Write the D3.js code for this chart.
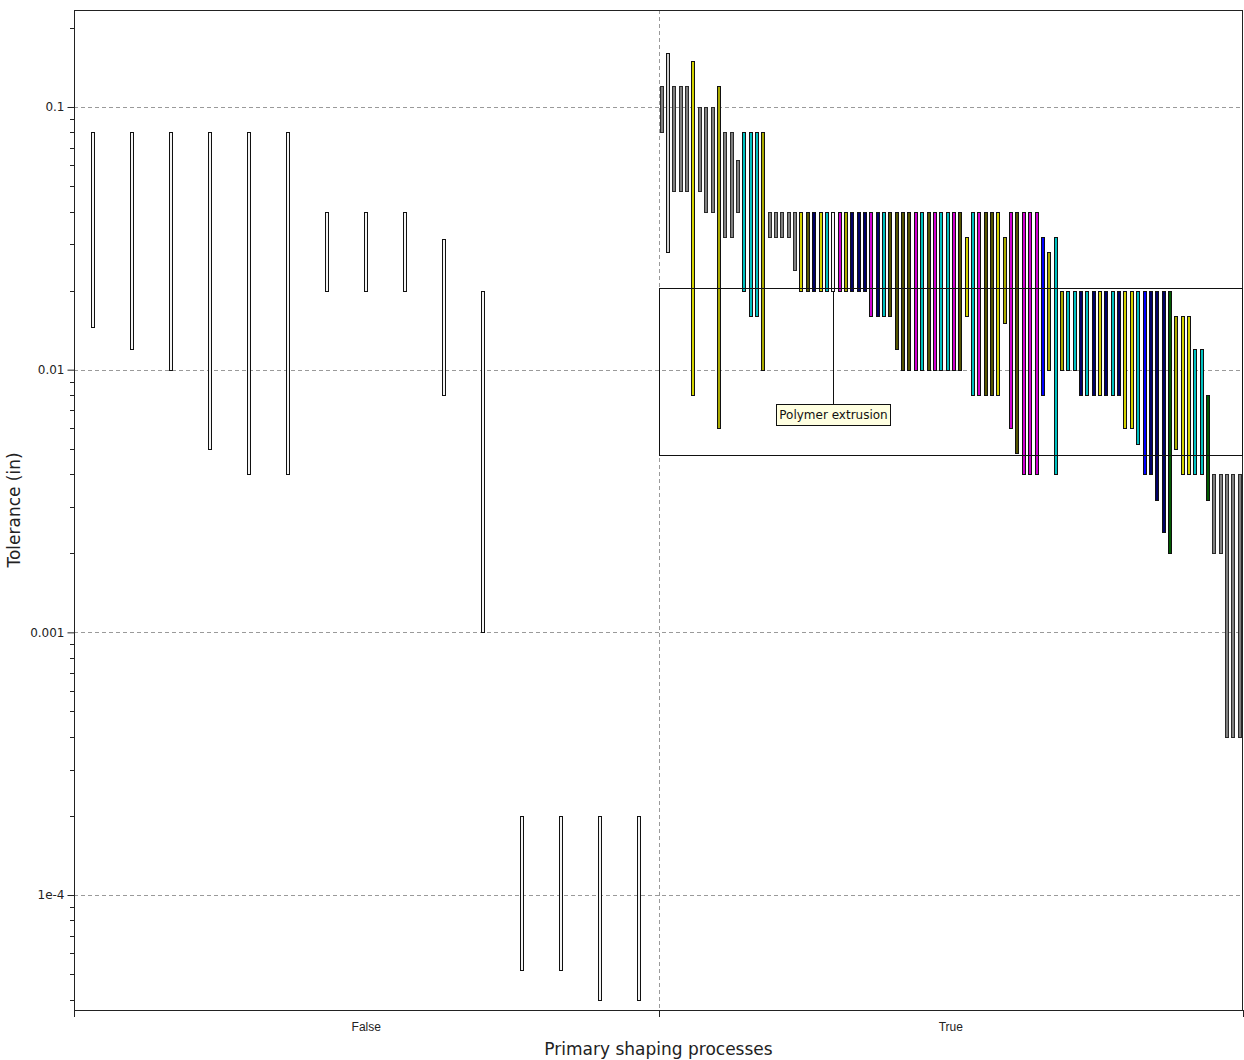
<!DOCTYPE html>
<html><head><meta charset="utf-8">
<script src="https://cdn.jsdelivr.net/npm/d3@7"></script>
<style>body{margin:0;background:#fff;} svg{display:block;font-family:"DejaVu Sans",Verdana,sans-serif;}</style>
</head><body>
<svg id="c" width="1244" height="1060"></svg>
<script>
// ---- data ----
const categories = ["False", "True"];
const falseHigh = [0.08,0.08,0.08,0.08,0.08,0.08,0.04,0.04,0.04,0.0315,0.02,2e-4,2e-4,2e-4,2e-4];
const falseLow  = [0.0145,0.012,0.01,0.005,0.004,0.004,0.02,0.02,0.02,0.008,0.001,5.2e-5,5.2e-5,4e-5,4e-5];
const trueHigh = [0.12,0.16,0.12,0.12,0.12,0.15,0.1,0.1,0.1,0.12,
  0.08,0.08,0.063,0.08,0.08,0.08,0.08,0.04,0.04,0.04,
  0.04,0.04,0.04,0.04,0.04,0.04,0.04,0.04,0.04,0.04,
  0.04,0.04,0.04,0.04,0.04,0.04,0.04,0.04,0.04,0.04,
  0.04,0.04,0.04,0.04,0.04,0.04,0.04,0.04,0.032,0.04,
  0.04,0.04,0.04,0.04,0.032,0.04,0.04,0.04,0.04,0.04,
  0.032,0.028,0.032,0.02,0.02,0.02,0.02,0.02,0.02,0.02,
  0.02,0.02,0.02,0.02,0.02,0.02,0.02,0.02,0.02,0.02,
  0.02,0.016,0.016,0.016,0.012,0.012,0.008,0.004,0.004,0.004,
  0.004,0.004];
const trueLow = [0.08,0.028,0.048,0.048,0.048,0.008,0.048,0.04,0.04,0.006,
  0.032,0.032,0.04,0.02,0.016,0.016,0.01,0.032,0.032,0.032,
  0.032,0.024,0.02,0.02,0.02,0.02,0.02,0.02,0.02,0.02,
  0.02,0.02,0.02,0.016,0.016,0.016,0.016,0.012,0.01,0.01,
  0.01,0.01,0.01,0.01,0.01,0.01,0.01,0.01,0.016,0.008,
  0.008,0.008,0.008,0.008,0.015,0.006,0.0048,0.004,0.004,0.004,
  0.008,0.01,0.004,0.01,0.01,0.01,0.008,0.008,0.008,0.008,
  0.008,0.008,0.008,0.006,0.006,0.0052,0.004,0.004,0.0032,0.0024,
  0.002,0.005,0.004,0.004,0.004,0.004,0.0032,0.002,0.002,0.0004,
  0.0004,0.0004];
// material family of each "True" bar
const trueFamily = ["gray","light","gray","gray","gray","yellow","gray","gray","gray","olive",
  "gray","gray","gray","cyan","cyan","cyan","olive","gray","gray","gray",
  "gray","gray","yellow","dark","navy","yellow","cyan","white","magenta","olive",
  "navy","navy","navy","magenta","navy","cyan","dark","dark","dark","dark",
  "magenta","cyan","dark","magenta","cyan","cyan","magenta","dark","yellow","cyan",
  "magenta","dark","dark","yellow","olive","magenta","dark","magenta","magenta","magenta",
  "blue","olive","cyan","olive","cyan","cyan","navy","cyan","navy","yellow",
  "navy","cyan","navy","yellow","yellow","cyan","blue","navy","navy","navy",
  "green","olive","yellow","yellow","cyan","cyan","green","gray","gray","gray",
  "gray","gray"];
const yTickValues = [0.1, 0.01, 0.001, 1e-4];
const yTickLabels = ["0.1", "0.01", "0.001", "1e-4"];
const highlightLabel = "Polymer extrusion";
const highlightIndex = 27;
const highlightBox = [0.0205, 0.00473];

// ---- styles ----
const familyColor = {gray:"#7f7f7f", light:"#cfcfcf", white:"#f6f6f6", yellow:"#d2d200", olive:"#aaaa00",
  dark:"#545400", navy:"#000066", cyan:"#00c0c0", magenta:"#d000d0", blue:"#0000ff", green:"#005a00"};

const svg = d3.select("#c");
const L = 74, R = 1243, T = 10, B = 1010;
const x = d3.scaleBand().domain(categories).range([L, R]);
const y = d3.scaleLog().domain([3.65e-5, 0.234]).range([B, T]);

// grid
const g = svg.append("g");
g.selectAll(".hg").data(yTickValues).join("line")
  .attr("x1", L).attr("x2", R).attr("y1", d => Math.round(y(d)) + 0.5).attr("y2", d => Math.round(y(d)) + 0.5)
  .attr("stroke", "#9a9a9a").attr("stroke-dasharray", "4,3");
g.append("line").attr("x1", Math.round(x("True")) + 0.5).attr("x2", Math.round(x("True")) + 0.5)
  .attr("y1", T).attr("y2", B).attr("stroke", "#9a9a9a").attr("stroke-dasharray", "4,3");

// bars
function drawBars(cat, hi, lo, fills, strokes) {
  const inner = d3.scaleBand().domain(d3.range(hi.length)).range([x(cat), x(cat) + x.bandwidth()]);
  const w = 4;
  svg.append("g").selectAll("rect").data(hi).join("rect")
    .attr("x", (d, i) => Math.round(inner(i) + inner.bandwidth() / 2 - w / 2) + 0.5)
    .attr("y", (d, i) => Math.round(y(hi[i])) + 0.5)
    .attr("width", w - 1)
    .attr("height", (d, i) => Math.round(y(lo[i])) - Math.round(y(hi[i])))
    .attr("fill", (d, i) => fills[i])
    .attr("stroke", (d, i) => strokes[i])
    .attr("stroke-width", 1);
  return inner;
}
drawBars("False", falseHigh, falseLow, falseHigh.map(() => "#f4f4f4"), falseHigh.map(() => "#111"));
const innerT = drawBars("True", trueHigh, trueLow, trueFamily.map(f => familyColor[f]), trueFamily.map(f => f === "gray" ? "#2a2a2a" : "#111"));

// frame / axes
svg.append("rect").attr("x", L + 0.5).attr("y", T + 0.5).attr("width", R - L - 1).attr("height", B - T)
  .attr("fill", "none").attr("stroke", "#222");
const yAxis = d3.axisLeft(y).tickValues(yTickValues).tickFormat((d, i) => yTickLabels[i]).tickSize(7).tickPadding(3);
const ya = svg.append("g").attr("transform", `translate(${L + 0.5},0)`).call(yAxis);
ya.select(".domain").remove();
ya.selectAll("text").attr("font-size", 12).attr("fill", "#222").attr("font-family", "DejaVu Sans");
ya.selectAll("line").attr("stroke", "#222");
// minor ticks
const minor = [];
for (let e = -5; e <= -1; e++) for (let m = 2; m <= 9; m++) {
  const v = m * Math.pow(10, e);
  if (v >= y.domain()[0] && v <= y.domain()[1]) minor.push(v);
}
svg.append("g").selectAll("line").data(minor).join("line")
  .attr("x1", L - 4).attr("x2", L).attr("y1", d => Math.round(y(d)) + 0.5).attr("y2", d => Math.round(y(d)) + 0.5)
  .attr("stroke", "#222");

const xAxis = d3.axisBottom(x).tickSize(0).tickPadding(12);
const xa = svg.append("g").attr("transform", `translate(0,${B + 0.5})`).call(xAxis);
xa.select(".domain").remove();
xa.selectAll("text").attr("font-size", 12).attr("fill", "#222");
// band boundary ticks
const bounds = [x("False"), x("True"), x("True") + x.bandwidth()];
svg.append("g").selectAll("line").data(bounds).join("line")
  .attr("x1", d => Math.round(d) + 0.5).attr("x2", d => Math.round(d) + 0.5)
  .attr("y1", B).attr("y2", B + 7).attr("stroke", "#222");

// axis titles
svg.append("text").attr("x", (L + R) / 2).attr("y", 1055).attr("text-anchor", "middle")
  .attr("font-size", 17).attr("fill", "#222").text("Primary shaping processes");
svg.append("text").attr("transform", `translate(20,${(T + B) / 2}) rotate(-90)`).attr("text-anchor", "middle")
  .attr("font-size", 17).attr("fill", "#222").text("Tolerance (in)");

// highlight annotation
const ann = svg.append("g");
ann.append("rect").attr("x", Math.round(x("True")) + 0.5).attr("y", Math.round(y(highlightBox[0])) + 0.5)
  .attr("width", R - 1 - Math.round(x("True")))
  .attr("height", Math.round(y(highlightBox[1])) - Math.round(y(highlightBox[0])))
  .attr("fill", "none").attr("stroke", "#111");
const hx = Math.round(innerT(highlightIndex) + innerT.bandwidth() / 2) + 0.5;
const labelTop = 404;
ann.append("line").attr("x1", hx).attr("x2", hx).attr("y1", Math.round(y(trueLow[highlightIndex])) + 1).attr("y2", labelTop)
  .attr("stroke", "#111");
const lt = ann.append("text").attr("x", hx).attr("y", labelTop + 15).attr("text-anchor", "middle")
  .attr("font-size", 12).attr("fill", "#111").text(highlightLabel);
const bb = lt.node().getBBox();
ann.insert("rect", "text").attr("x", Math.round(bb.x - 3) + 0.5).attr("y", labelTop + 0.5)
  .attr("width", Math.round(bb.width + 6)).attr("height", 21).attr("fill", "#ffffe1").attr("stroke", "#111");
</script>
</body></html>
